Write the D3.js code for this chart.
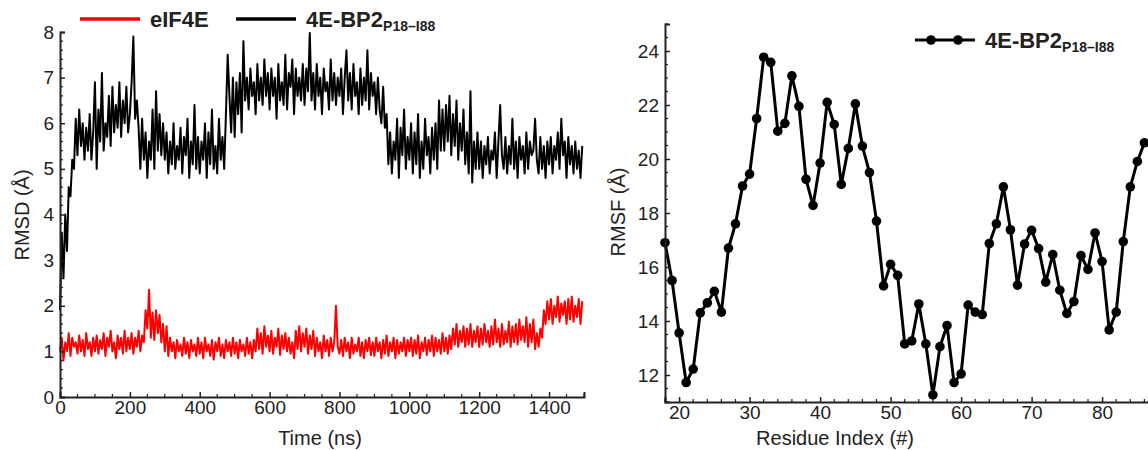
<!DOCTYPE html>
<html>
<head>
<meta charset="utf-8">
<script src="https://cdn.jsdelivr.net/npm/d3@7"></script>
<style>
  body { margin: 0; background: #fff; }
  svg { display: block; font-family: "Liberation Sans", Arial, sans-serif; }
  .tick text { fill: #222; }
</style>
</head>
<body>
<svg id="chart" width="1148" height="450"></svg>
<script>
/*************************************************
    Data:
 *************************************************/
// RMSD traces, one value every 5 ns starting at 0 ns (rows of 100 ns)
var rmsdStep = 5;
var bp2Rmsd = [
    1.9,3.6,2.6,4.0,3.2,4.6,4.4,5.2,5.0,6.1,5.3,6.3,5.5,6.0,5.2,5.9,5.4,6.2,5.2,5.8,
    6.9,5.0,6.3,5.6,7.1,5.4,6.0,5.7,6.6,5.5,6.8,5.8,6.4,5.9,6.9,5.7,6.5,6.0,6.8,5.8,
    6.2,6.9,7.9,6.1,6.5,5.9,5.0,6.1,5.2,5.8,4.8,5.6,5.2,6.3,5.0,6.7,5.4,6.2,5.3,6.0,
    5.2,5.8,4.9,5.6,5.1,6.0,5.0,5.5,5.2,5.9,4.9,5.7,5.3,6.1,4.8,5.6,5.1,6.4,5.0,5.7,
    4.9,5.6,5.2,6.0,4.8,5.8,5.1,6.3,5.0,5.5,4.9,6.1,5.2,5.7,5.0,6.2,7.5,6.6,5.8,7.0,
    5.7,6.9,6.2,7.1,5.8,7.8,6.5,7.0,6.3,7.2,6.6,6.9,6.2,7.3,6.5,7.0,6.4,7.4,6.6,7.1,
    6.3,7.2,6.6,7.0,6.1,7.3,6.5,6.9,6.4,7.5,6.3,7.1,6.8,7.4,6.2,7.2,6.6,7.0,6.5,7.3,
    6.4,7.2,6.7,7.98,6.5,7.1,6.3,7.3,6.6,7.0,6.2,7.2,6.7,6.9,6.3,7.4,6.5,7.1,6.4,7.0,
    6.6,7.2,6.2,7.0,7.6,6.5,7.1,6.3,7.3,6.6,6.9,6.2,7.2,6.4,7.0,6.5,7.6,6.3,7.1,6.6,
    6.9,6.2,7.0,6.3,6.0,6.8,5.9,6.2,5.1,5.8,4.9,5.6,5.2,6.1,4.8,5.9,5.3,6.3,5.0,5.7,
    5.2,6.0,4.9,5.8,5.1,6.2,4.8,5.6,5.0,6.1,5.3,5.7,4.9,5.9,5.2,6.0,5.0,6.5,5.4,6.3,
    5.4,6.4,5.6,6.6,5.3,6.2,5.5,6.5,5.2,6.0,5.4,6.3,5.1,5.8,4.9,6.7,4.7,5.6,5.0,5.8,
    5.0,5.6,4.8,5.5,5.1,5.7,4.9,5.4,5.2,5.8,4.8,5.6,6.4,5.3,5.0,5.7,4.9,5.5,5.1,6.1,
    5.0,5.6,4.8,5.7,5.2,5.5,4.9,5.8,5.0,5.6,5.3,5.4,6.1,5.2,4.9,5.7,5.0,5.5,4.8,5.6,
    5.1,5.7,4.9,5.5,5.2,5.8,5.0,6.1,5.3,5.6,4.8,5.7,5.1,5.5,4.9,5.6,5.0,5.4,4.8,5.5
];
var eif4eRmsd = [
    1.0,1.3,0.8,1.2,1.0,1.4,0.9,1.3,1.1,1.2,0.95,1.35,1.0,1.25,0.9,1.4,1.05,1.2,0.9,1.3,
    1.0,1.35,0.95,1.25,1.05,1.4,0.9,1.3,1.1,1.45,1.0,1.2,0.85,1.35,1.05,1.3,0.95,1.45,1.0,1.3,
    1.05,1.4,0.95,1.3,1.1,1.45,1.0,1.35,1.2,1.9,1.5,2.35,1.3,1.85,1.25,1.9,1.4,1.8,1.2,1.6,
    1.0,1.55,0.9,1.3,1.0,1.2,0.85,1.25,1.0,1.15,0.9,1.3,0.95,1.2,0.85,1.25,1.0,1.15,0.9,1.3,
    0.95,1.2,0.85,1.3,1.0,1.15,0.9,1.25,0.82,1.2,1.0,1.3,0.9,1.15,0.85,1.25,1.0,1.2,0.9,1.3,
    0.95,1.2,0.85,1.25,1.0,1.15,0.9,1.3,0.95,1.2,0.85,1.25,1.0,1.5,1.05,1.4,0.95,1.55,1.1,1.35,
    1.0,1.45,0.95,1.3,1.1,1.5,0.92,1.35,1.05,1.4,1.0,1.3,0.95,1.2,0.85,1.45,1.05,1.55,1.0,1.4,
    1.1,1.5,0.95,1.35,1.05,1.45,0.9,1.3,1.0,1.2,0.85,1.35,1.0,1.25,0.9,1.3,1.0,1.2,2.0,1.1,
    0.95,1.25,0.9,1.3,1.0,1.2,0.85,1.3,0.95,1.15,1.0,1.3,0.9,1.2,0.85,1.25,1.0,1.3,0.92,1.2,
    0.9,1.3,1.0,1.2,0.85,1.25,0.95,1.35,0.9,1.2,1.0,1.3,0.85,1.25,0.95,1.2,1.0,1.3,0.9,1.25,
    1.0,1.3,0.9,1.25,0.95,1.35,0.85,1.2,1.0,1.3,0.92,1.25,1.0,1.35,0.9,1.3,1.0,1.25,0.95,1.4,
    1.0,1.3,0.95,1.35,1.05,1.5,1.15,1.6,1.1,1.45,1.2,1.55,1.1,1.5,1.15,1.6,1.1,1.45,1.2,1.55,
    1.1,1.5,1.15,1.6,1.2,1.45,1.1,1.55,1.15,1.7,1.2,1.5,1.1,1.6,1.15,1.45,1.2,1.65,1.1,1.55,
    1.2,1.6,1.15,1.7,1.25,1.55,1.2,1.75,1.1,1.6,1.2,1.7,1.05,1.4,1.1,1.5,1.3,1.9,1.6,2.1,
    1.7,2.15,1.6,2.0,1.75,2.2,1.65,2.05,1.8,2.1,1.6,2.15,1.7,2.2,1.65,2.0,1.75,2.15,1.6,2.1
];
var timeTicks = [0, 200, 400, 600, 800, 1000, 1200, 1400];
var rmsdTicks = [0, 1, 2, 3, 4, 5, 6, 7, 8];

// RMSF per residue, starting at residue 18
var firstResidue = 18;
var bp2Rmsf = [
    16.9, 15.5, 13.56, 11.72, 12.22, 14.3, 14.67, 15.1, 14.33, 16.7,
    17.6, 19.0, 19.44, 21.5, 23.77, 23.58, 21.03, 21.32, 23.08, 21.95,
    19.25, 18.28, 19.85, 22.1, 21.28, 19.06, 20.39, 22.04, 20.48, 19.5,
    17.7, 15.3, 16.1, 15.69, 13.15, 13.26, 14.63, 13.15, 11.26, 13.05,
    13.83, 11.72, 12.04, 14.59, 14.33, 14.24, 16.87, 17.6, 18.97, 17.38,
    15.33, 16.85, 17.36, 16.68, 15.44, 16.46, 15.14, 14.28, 14.72, 16.42,
    15.91, 17.26, 16.2, 13.67, 14.33, 16.94, 18.97, 19.91, 20.6
];
var residueTicks = [20, 30, 40, 50, 60, 70, 80];
var rmsfTicks = [12, 14, 16, 18, 20, 22, 24];

/*************************************************
    Drawing:
 *************************************************/
var svg = d3.select("#chart");

var defs = svg.append("defs");
defs.append("filter").attr("id", "shadow")
    .attr("x", "-20%").attr("y", "-100%").attr("width", "140%").attr("height", "300%")
    .append("feGaussianBlur").attr("stdDeviation", 2);

function drawAxes(g, x, y, xTicks, yTicks, xMinor, yMinor) {
    var x0 = x.range()[0];
    var y0 = y.range()[0];

    var xa = g.append("g").attr("transform", "translate(0," + y0 + ")")
        .call(d3.axisBottom(x).tickValues(xTicks).tickSize(-5).tickPadding(3).tickFormat(d3.format("d")));
    var ya = g.append("g").attr("transform", "translate(" + x0 + ",0)")
        .call(d3.axisLeft(y).tickValues(yTicks).tickSize(-5).tickPadding(6).tickFormat(d3.format("d")));

    [xa, ya].forEach(function(a) {
        a.select(".domain").attr("stroke", "#222").attr("stroke-width", 2);
        a.selectAll(".tick line").attr("stroke", "#222").attr("stroke-width", 1.5);
        a.selectAll(".tick text").attr("font-size", 19).attr("fill", "#222");
    });

    // minor ticks
    g.append("g").selectAll("line").data(xMinor).join("line")
        .attr("x1", x).attr("x2", x)
        .attr("y1", y0).attr("y2", y0 - 3)
        .attr("stroke", "#222").attr("stroke-width", 1.2);
    g.append("g").selectAll("line").data(yMinor).join("line")
        .attr("y1", y).attr("y2", y)
        .attr("x1", x0).attr("x2", x0 + 3)
        .attr("stroke", "#222").attr("stroke-width", 1.2);
}

function minorTicks(lo, hi, step, majors) {
    var out = [];
    for (var v = lo; v <= hi + 1e-9; v += step) {
        var r = Math.round(v * 1000) / 1000;
        if (majors.indexOf(r) < 0) out.push(r);
    }
    return out;
}

// ---------- left panel: RMSD ----------
var xT = d3.scaleLinear().domain([0, 1500]).range([60, 584]);
var yR = d3.scaleLinear().domain([0, 8]).range([397, 32]);
var left = svg.append("g");

var lineT = d3.line()
    .x(function(d, i) { return xT(i * rmsdStep); })
    .y(function(d) { return yR(d); });

left.append("path").datum(eif4eRmsd)
    .attr("d", lineT).attr("fill", "none")
    .attr("stroke", "#ff0000").attr("stroke-width", 2).attr("stroke-linejoin", "round");
left.append("path").datum(bp2Rmsd)
    .attr("d", lineT).attr("fill", "none")
    .attr("stroke", "#000").attr("stroke-width", 2).attr("stroke-linejoin", "round");

drawAxes(left, xT, yR, timeTicks, rmsdTicks,
    minorTicks(0, 1500, 50, timeTicks), minorTicks(0, 8, 0.2, rmsdTicks));

left.append("text").attr("x", 320).attr("y", 445)
    .attr("text-anchor", "middle").attr("font-size", 20).attr("fill", "#222")
    .text("Time (ns)");
left.append("text")
    .attr("transform", "translate(29,215) rotate(-90)")
    .attr("text-anchor", "middle").attr("font-size", 20).attr("fill", "#222")
    .text("RMSD (Å)");

// legend
var legL = svg.append("g");
[{x: 80, color: "#ff0000", label: "eIF4E", sub: null},
 {x: 236, color: "#000", label: "4E-BP2", sub: "P18\u2013I88"}].forEach(function(d) {
    legL.append("line").attr("x1", d.x).attr("x2", d.x + 60).attr("y1", 21).attr("y2", 21)
        .attr("stroke", "#999").attr("stroke-width", 4).attr("filter", "url(#shadow)");
    legL.append("line").attr("x1", d.x).attr("x2", d.x + 60).attr("y1", 19).attr("y2", 19)
        .attr("stroke", d.color).attr("stroke-width", 3.5);
    var t = legL.append("text").attr("x", d.x + 70).attr("y", 27)
        .attr("font-size", 22).attr("font-weight", "bold").attr("fill", "#222");
    t.append("tspan").text(d.label);
    if (d.sub) t.append("tspan").attr("font-size", 14).attr("dy", 4).text(d.sub);
});

// ---------- right panel: RMSF ----------
var xRes = d3.scaleLinear().domain([18, 88]).range([665, 1158.5]);
var yF = d3.scaleLinear().domain([11, 25]).range([402, 24]);
var right = svg.append("g");

var lineR = d3.line()
    .x(function(d, i) { return xRes(firstResidue + i); })
    .y(function(d) { return yF(d); });

right.append("path").datum(bp2Rmsf)
    .attr("d", lineR).attr("fill", "none")
    .attr("stroke", "#000").attr("stroke-width", 3).attr("stroke-linejoin", "round");
right.append("g").selectAll("circle").data(bp2Rmsf).join("circle")
    .attr("cx", function(d, i) { return xRes(firstResidue + i); })
    .attr("cy", function(d) { return yF(d); })
    .attr("r", 4.8).attr("fill", "#000");

drawAxes(right, xRes, yF, residueTicks, rmsfTicks,
    minorTicks(18, 88, 2, residueTicks), minorTicks(11, 25, 0.5, rmsfTicks));

right.append("text").attr("x", 835).attr("y", 445)
    .attr("text-anchor", "middle").attr("font-size", 20).attr("fill", "#222")
    .text("Residue Index (#)");
right.append("text")
    .attr("transform", "translate(625,212) rotate(-90)")
    .attr("text-anchor", "middle").attr("font-size", 20).attr("fill", "#222")
    .text("RMSF (Å)");

// legend
var legR = svg.append("g");
legR.append("line").attr("x1", 915).attr("x2", 975).attr("y1", 43).attr("y2", 43)
    .attr("stroke", "#999").attr("stroke-width", 4).attr("filter", "url(#shadow)");
legR.append("line").attr("x1", 915).attr("x2", 975).attr("y1", 40).attr("y2", 40)
    .attr("stroke", "#000").attr("stroke-width", 3);
legR.selectAll("circle").data([931, 958]).join("circle")
    .attr("cx", function(d) { return d; }).attr("cy", 40).attr("r", 4.8).attr("fill", "#000");
var tR = legR.append("text").attr("x", 985).attr("y", 48)
    .attr("font-size", 22).attr("font-weight", "bold").attr("fill", "#222");
tR.append("tspan").text("4E-BP2");
tR.append("tspan").attr("font-size", 14).attr("dy", 4).text("P18\u2013I88");
</script>
</body>
</html>
